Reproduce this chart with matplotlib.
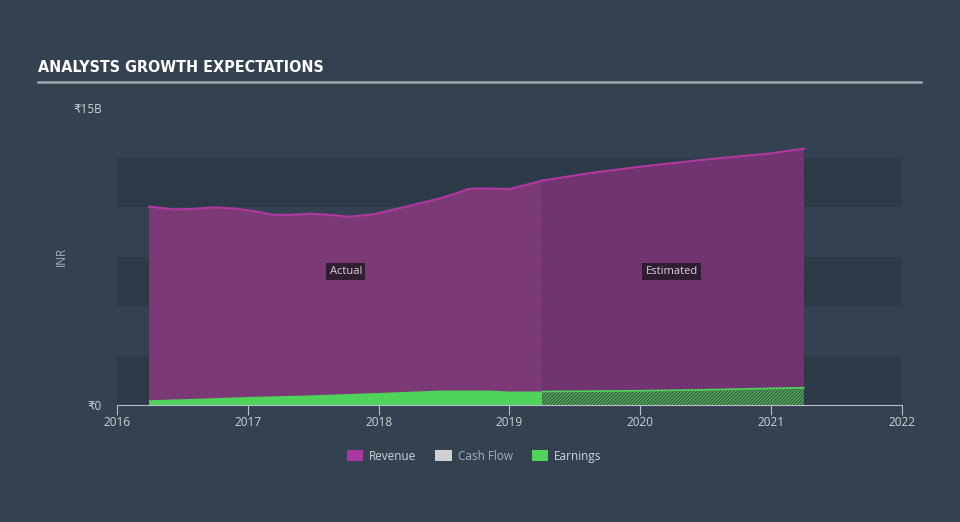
import matplotlib
matplotlib.use('Agg')
import matplotlib.pyplot as plt
from matplotlib.patches import Patch
import numpy as np

# revenue, INR billions
rev_years_act = [2016.245, 2016.43, 2016.56, 2016.74, 2016.89, 2017.04, 2017.19, 2017.32,
                 2017.475, 2017.63, 2017.77, 2017.96, 2018.21, 2018.47, 2018.57, 2018.685,
                 2018.775, 2019.0, 2019.1, 2019.25]
rev_act = [10.02, 9.88, 9.90, 9.98, 9.93, 9.80, 9.61, 9.60, 9.66, 9.60, 9.51, 9.63,
           10.02, 10.44, 10.64, 10.91, 10.94, 10.91, 11.08, 11.33]
rev_years_est = [2019.25, 2019.62, 2020.0, 2020.5, 2021.0, 2021.25]
rev_est = [11.33, 11.72, 12.04, 12.40, 12.71, 12.95]

# earnings
earn_years_act = [2016.245, 2016.69, 2017.02, 2017.45, 2018.01, 2018.47, 2018.85, 2019.0, 2019.25]
earn_act = [0.24, 0.33, 0.41, 0.48, 0.61, 0.73, 0.73, 0.68, 0.68]
earn_years_est = [2019.25, 2020.0, 2020.5, 2021.0, 2021.25]
earn_est = [0.68, 0.72, 0.77, 0.84, 0.87]

year_ticks = [2016, 2017, 2018, 2019, 2020, 2021, 2022]
legend_names = ['Revenue', 'Cash Flow', 'Earnings']

bg = '#334151'
band = '#2d3a48'
rev_fill = '#7b3a76'
rev_line = '#b0389f'
green = '#4fd35a'

plt.rcParams['font.family'] = ['Open Sans', 'DejaVu Sans']
plt.rcParams['hatch.linewidth'] = 0.6

fig = plt.figure(figsize=(9.6, 5.22), dpi=100, facecolor=bg)
ax = fig.add_axes([117/960, 1-405/522, 785/960, 297/522])
ax.set_facecolor(bg)

for lo in [0, 5, 10]:
    ax.axhspan(lo, lo + 2.5, color=band, lw=0, zorder=0)

# revenue
ax.fill_between(rev_years_act, 0, rev_act, facecolor=rev_fill, lw=0, zorder=1)
ax.fill_between(rev_years_est, 0, rev_est, facecolor='#5e3360', edgecolor='#96378f',
                hatch='//////////', lw=0, zorder=1)
ax.plot(rev_years_act, rev_act, color=rev_line, lw=1.5, zorder=3)
ax.plot(rev_years_est, rev_est, color=rev_line, lw=1.5, zorder=3)

# earnings
ax.fill_between(earn_years_act, 0, earn_act, facecolor=green, lw=0, zorder=2)
ax.fill_between(earn_years_est, 0, earn_est, facecolor='#3e5c47', edgecolor=green,
                hatch='//////////', lw=0, zorder=2)
ax.plot(earn_years_est, earn_est, color=green, lw=1.2, zorder=3)

ax.set_xlim(2016, 2022)
ax.set_ylim(0, 15)
for s in ['top', 'right', 'left']:
    ax.spines[s].set_visible(False)
ax.spines['bottom'].set_color('#b8c0c8')
ax.set_xticks(year_ticks)
ax.set_xticklabels([str(y) for y in year_ticks])
ax.tick_params(axis='x', colors='#b8c0c8', length=7, labelcolor='#d0d4d8', labelsize=8.5, pad=1)
ax.set_yticks([0, 15])
ax.set_yticklabels(['₹0', '₹15B'])
ax.tick_params(axis='y', length=0, labelcolor='#d0d4d8', labelsize=8.5, pad=11)
ax.set_ylabel('INR', color='#a8b0b8', fontsize=8.5, labelpad=4)

box = dict(boxstyle='square,pad=0.3', facecolor='#2a1a2c', edgecolor='none', alpha=0.9)
ax.text(2017.75, 6.74, 'Actual', color='#d8d0d8', fontsize=8, ha='center', va='center', bbox=box, zorder=5)
ax.text(2020.24, 6.74, 'Estimated', color='#d8d0d8', fontsize=8, ha='center', va='center', bbox=box, zorder=5)

# title + underline
fig.text(38/960, 1-68/522, 'ANALYSTS GROWTH EXPECTATIONS', color='white', fontsize=11.5,
         fontweight='bold', fontstretch='condensed', family=['DejaVu Sans'], va='center')
fig.add_artist(plt.Line2D([38/960, 921/960], [1-82/522, 1-82/522], color='#a0a6ac', lw=1.8))

handles = [Patch(facecolor='#a8389e', edgecolor='none'),
           Patch(facecolor='#d0d0d0', edgecolor='none'),
           Patch(facecolor=green, edgecolor='none')]
leg = fig.legend(handles, legend_names, loc='center', bbox_to_anchor=(0.494, 1-456/522), ncol=3,
                 frameon=False, fontsize=8.5, handlelength=1.4, handleheight=1.0,
                 columnspacing=1.6, handletextpad=0.5)
for t, c in zip(leg.get_texts(), ['#d0d4d8', '#a8aeb4', '#d0d4d8']):
    t.set_color(c)

fig.savefig('out.png', dpi=100, facecolor=bg)
